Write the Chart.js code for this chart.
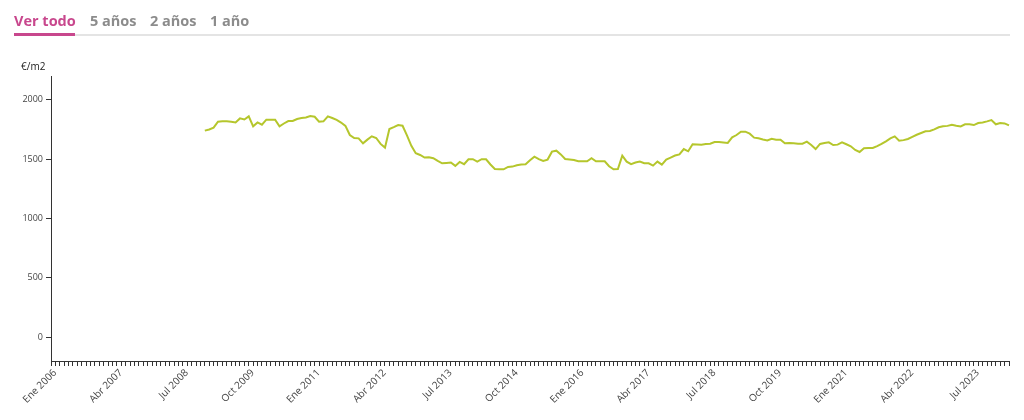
<!DOCTYPE html>
<html>
<head>
<meta charset="utf-8">
<script src="https://cdn.jsdelivr.net/npm/chart.js@4"></script>
<style>
  body { margin: 0; background: #fff; font-family: "Open Sans", sans-serif; }
  #wrap { position: relative; width: 1024px; height: 420px; }
  #grafico { position: absolute; left: 0; top: 0; }
  .tab { position: absolute; top: 11px; font-size: 14.5px; font-weight: 700; color: #8c8c8c; }
  .tab.activa { color: #c8478d; }
  #linea { position: absolute; left: 14px; top: 34px; width: 996px; height: 2px; background: #e4e4e4; }
  #marca { position: absolute; left: 14px; top: 33px; width: 61px; height: 3px; background: #c8478d; }
  #unidad { position: absolute; left: 21px; top: 59px; font-size: 10px; color: #222; }
</style>
</head>
<body>
<div id="wrap">
  <canvas id="grafico" width="1024" height="420"></canvas>
  <span class="tab activa" style="left:14px">Ver todo</span>
  <span class="tab" style="left:90px">5 años</span>
  <span class="tab" style="left:150px">2 años</span>
  <span class="tab" style="left:210px">1 año</span>
  <div id="linea"></div>
  <div id="marca"></div>
  <div id="unidad">€/m2</div>
</div>
<script>
const meses = ["Ene", "Feb", "Mar", "Abr", "May", "Jun", "Jul", "Ago", "Sep", "Oct", "Nov", "Dic"];
const anioInicio = 2006;
const totalMeses = 219; // Ene 2006 .. Mar 2024
const mesesSinDato = 35; // la serie empieza en Dic 2008
const marcasY = [0, 500, 1000, 1500, 2000];

// precio medio €/m2, mensual desde Dic 2008
const precios = [
  1740, 1750, 1765, 1815, 1818, 1818, 1815, 1809, 1843, 1834, 1860, 1776, 1809, 1790, 1832, 1832,
  1832, 1776, 1800, 1821, 1821, 1838, 1846, 1851, 1863, 1857, 1815, 1818, 1860, 1846, 1830, 1808,
  1780, 1703, 1678, 1675, 1633, 1664, 1692, 1678, 1628, 1597, 1754, 1770, 1787, 1781, 1700, 1612,
  1550, 1535, 1513, 1516, 1508, 1485, 1465, 1468, 1471, 1443, 1476, 1457, 1499, 1499, 1479, 1499,
  1499, 1455, 1417, 1415, 1414, 1434, 1437, 1448, 1455, 1457, 1490, 1521, 1500, 1485, 1496, 1563,
  1571, 1540, 1501, 1497, 1493, 1482, 1482, 1482, 1507, 1482, 1482, 1482, 1440, 1414, 1417, 1529,
  1479, 1457, 1471, 1479, 1465, 1465, 1445, 1479, 1454, 1496, 1513, 1530, 1540, 1585, 1566, 1625,
  1624, 1622, 1627, 1630, 1644, 1644, 1640, 1636, 1683, 1703, 1731, 1731, 1714, 1681, 1675, 1665,
  1658, 1672, 1664, 1664, 1633, 1636, 1633, 1630, 1630, 1647, 1619, 1585, 1628, 1636, 1641, 1619,
  1622, 1641, 1625, 1608, 1577, 1560, 1591, 1594, 1594, 1610, 1628, 1650, 1675, 1692, 1655, 1660,
  1670, 1688, 1705, 1720, 1734, 1737, 1750, 1768, 1776, 1780, 1790, 1781, 1775, 1793, 1793, 1787,
  1804, 1809, 1818, 1829, 1793, 1804, 1801, 1784
];

const etiquetas = [];
for (let i = 0; i < totalMeses; i++) {
  etiquetas.push(meses[i % 12] + " " + (anioInicio + Math.floor(i / 12)));
}
const valores = new Array(mesesSinDato).fill(null).concat(precios);

const ctx = document.getElementById("grafico");
new Chart(ctx, {
  type: "line",
  data: {
    labels: etiquetas,
    datasets: [{
      data: valores,
      borderColor: "#b5c62c",
      borderWidth: 2,
      pointRadius: 0,
      tension: 0,
      fill: false
    }]
  },
  options: {
    responsive: false,
    animation: false,
    layout: { padding: { top: 76, right: 15, left: 0, bottom: 0 } },
    plugins: { legend: { display: false }, tooltip: { enabled: false } },
    scales: {
      x: {
        offset: false,
        afterFit: function(scale) { scale.height = 59; },
        border: { display: true, color: "#333", width: 1 },
        grid: { display: true, drawOnChartArea: false, drawTicks: true, tickLength: 5, color: "#333" },
        ticks: {
          autoSkip: false,
          maxRotation: 45,
          minRotation: 45,
          padding: 1,
          labelOffset: 4,
          color: "#444",
          font: { family: "Open Sans", size: 10 },
          callback: function(value, index) {
            return index % 15 === 0 ? this.getLabelForValue(value) : "";
          }
        }
      },
      y: {
        min: -200,
        max: 2200,
        afterFit: function(scale) { scale.width = 51; },
        afterBuildTicks: function(scale) {
          scale.ticks = marcasY.map(function(v) { return { value: v }; });
        },
        border: { display: true, color: "#333", width: 1 },
        grid: { display: true, drawOnChartArea: false, drawTicks: true, tickLength: 5, color: "#333" },
        ticks: {
          padding: 3,
          color: "#444",
          font: { family: "Open Sans", size: 9 },
          callback: function(value) { return String(value); }
        }
      }
    }
  }
});
</script>
</body>
</html>
